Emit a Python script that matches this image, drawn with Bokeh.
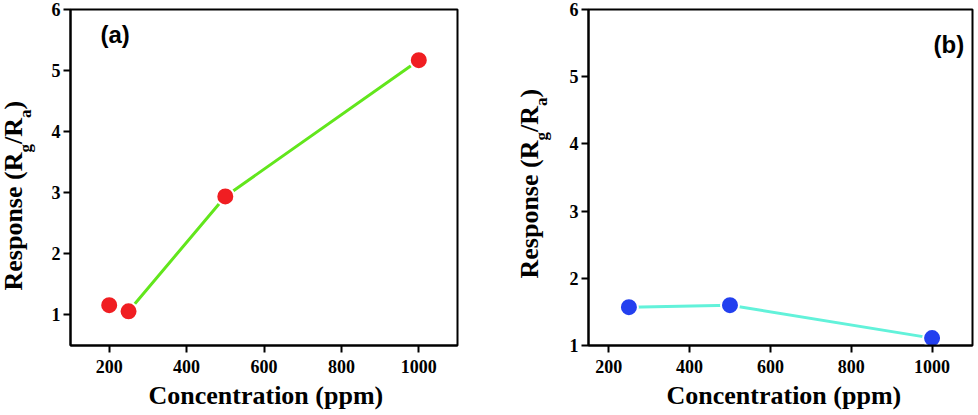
import math
from bokeh.plotting import figure
from bokeh.layouts import row, column
from bokeh.models import FixedTicker, Range1d, Label
from bokeh.embed import file_html
from bokeh.resources import INLINE

# ---- data ----
conc_a = [200, 250, 500, 1000]
resp_a = [1.16, 1.06, 2.94, 5.17]
conc_b = [250, 500, 1000]
resp_b = [1.57, 1.60, 1.11]
x_ticks = [200, 400, 600, 800, 1000]
y_ticks = [1, 2, 3, 4, 5, 6]
x_title = "Concentration (ppm)"
panel_tags = ["(a)", "(b)"]

SERIF = "Liberation Serif"
SANS = "Liberation Sans"

# Times-bold advance widths (per 1000 em) for label layout
W = {"R": 722, "e": 444, "s": 389, "p": 556, "o": 500, "n": 556, " ": 250,
     "(": 333, ")": 333, "/": 278, "g": 500, "a": 500}
SHIFT = 0.35  # empirical anchor correction (fraction of font size)


def tw(s, size):
    return sum(W[c] for c in s) * size / 1000.0


def blank_fig(width, height):
    p = figure(width=width, height=height, x_range=Range1d(0, 1), y_range=Range1d(0, 1),
               output_backend="svg", toolbar_location=None,
               x_axis_location=None, y_axis_location=None,
               min_border_left=0, min_border_right=0, min_border_top=0, min_border_bottom=0)
    p.grid.visible = False
    p.outline_line_color = None
    p.background_fill_color = "white"
    p.border_fill_color = "white"
    return p


def make_fig(width, xr, yr, mbl, mbr):
    p = figure(width=width, height=380, x_range=Range1d(*xr), y_range=Range1d(*yr),
               output_backend="svg", toolbar_location=None,
               min_border_left=mbl, min_border_right=mbr,
               min_border_top=9, min_border_bottom=35)
    p.grid.visible = False
    p.outline_line_color = "black"
    p.outline_line_width = 2
    p.outline_line_alpha = 1
    p.background_fill_color = "white"
    p.border_fill_color = "white"
    p.xaxis.ticker = FixedTicker(ticks=x_ticks)
    p.yaxis.ticker = FixedTicker(ticks=y_ticks)
    for ax in (p.xaxis[0], p.yaxis[0]):
        ax.axis_line_width = 2
        ax.major_tick_line_width = 2
        ax.major_tick_out = 7
        ax.major_tick_in = 0
        ax.minor_tick_line_color = None
        ax.major_label_text_font = SERIF
        ax.major_label_text_font_style = "bold"
        ax.major_label_text_font_size = "18px"
        ax.major_label_text_color = "black"
    p.yaxis.major_label_standoff = 3
    p.xaxis.major_label_standoff = 7
    return p


def ylabel_fig(width, bx, by):
    p = blank_fig(width, 415)
    big, small, sub = 26, 17, 9
    pieces = [("Response (R", big, 0), ("g", small, sub), ("/R", big, 0),
              ("a", small, sub), (")", big, 0)]
    y = by
    for txt, size, dx in pieces:
        p.add_layout(Label(x=bx + dx - SHIFT * size, y=y, x_units="screen", y_units="screen",
                           angle=math.pi / 2, text=txt, text_font=SERIF,
                           text_font_style="bold", text_font_size=f"{size}px",
                           text_color="black", text_baseline="alphabetic",
                           text_align="left"))
        y += tw(txt, size)
    return p


def xlabel_fig(width, lx):
    p = blank_fig(width, 35)
    p.add_layout(Label(x=lx, y=11 + SHIFT * 26, x_units="screen", y_units="screen", text=x_title,
                       text_font=SERIF, text_font_style="bold", text_font_size="26px",
                       text_color="black", text_baseline="alphabetic", text_align="left"))
    return p


def add_tag(p, txt, x, y):
    p.add_layout(Label(x=x, y=y + SHIFT * 24, x_units="screen", y_units="screen", text=txt,
                       text_font=SANS, text_font_style="bold", text_font_size="24px",
                       text_color="black", text_baseline="alphabetic", text_align="left"))


# ---- panel (a) ----
pa = make_fig(440, (100, 1100), (0.5, 6), 22, 31)
pa.line(conc_a[1:], resp_a[1:], line_color="#62e61c", line_width=3)
pa.scatter(conc_a, resp_a, size=18, fill_color="#f01e22", line_color="white", line_width=2)
add_tag(pa, panel_tags[0], 30, 303)
ya = ylabel_fig(48, 22, 125)
xa = xlabel_fig(440, 78)

# ---- panel (b) ----
pb = make_fig(420, (150, 1100), (1, 6), 30, 6)
pb.line(conc_b, resp_b, line_color="#62f2da", line_width=3)
pb.scatter(conc_b, resp_b, size=18, fill_color="#2340ef", line_color="white", line_width=2)
add_tag(pb, panel_tags[1], 345, 293)
yb = ylabel_fig(70, 50, 137)
xb = xlabel_fig(420, 78)

layout = row(ya, column(pa, xa), yb, column(pb, xb))
open("out.html", "w").write(file_html(layout, INLINE))
